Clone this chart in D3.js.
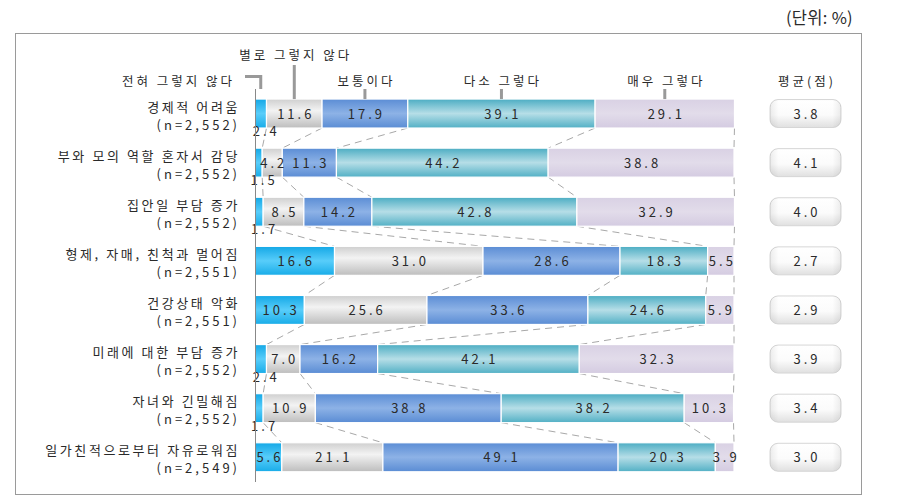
<!DOCTYPE html>
<html>
<head>
<meta charset="utf-8">
<script src="https://cdn.jsdelivr.net/npm/d3@7"></script>
<style>
  html, body { margin: 0; padding: 0; background: #fff; }
  svg text { font-family: "Noto Sans CJK KR", "Noto Sans", sans-serif; fill: #2a2a2a; }
</style>
</head>
<body>
<svg id="chart" width="898" height="503"></svg>
<script>
const categories = [
  "경제적 어려움",
  "부와 모의 역할 혼자서 감당",
  "집안일 부담 증가",
  "형제, 자매, 친척과 멀어짐",
  "건강상태 악화",
  "미래에 대한 부담 증가",
  "자녀와 긴밀해짐",
  "일가친적으로부터 자유로워짐"
];
const sampleSizes = ["(n=2,552)", "(n=2,552)", "(n=2,552)", "(n=2,551)", "(n=2,551)", "(n=2,552)", "(n=2,552)", "(n=2,549)"];
const seriesNames = ["전혀 그렇지 않다", "별로 그렇지 않다", "보통이다", "다소 그렇다", "매우 그렇다"];
const notAtAll   = [2.4, 1.5, 1.7, 16.6, 10.3, 2.4, 1.7, 5.6];
const notReally  = [11.6, 4.2, 8.5, 31.0, 25.6, 7.0, 10.9, 21.1];
const neutral    = [17.9, 11.3, 14.2, 28.6, 33.6, 16.2, 38.8, 49.1];
const somewhat   = [39.1, 44.2, 42.8, 18.3, 24.6, 42.1, 38.2, 20.3];
const very       = [29.1, 38.8, 32.9, 5.5, 5.9, 32.3, 10.3, 3.9];
const averages   = ["3.8", "4.1", "4.0", "2.7", "2.9", "3.9", "3.4", "3.0"];
const unitLabel = "(단위: %)";
const avgHeader = "평균(점)";

const series = [notAtAll, notReally, neutral, somewhat, very];

const svg = d3.select("#chart");
const defs = svg.append("defs");

const gradStops = [
  [["0%", "#14a8e6"], ["50%", "#58cdfa"], ["100%", "#18ace8"]],
  [["0%", "#cfcfcf"], ["40%", "#f3f3f3"], ["100%", "#bdbdbd"]],
  [["0%", "#5b8dd5"], ["50%", "#8db2e6"], ["100%", "#5a8cd4"]],
  [["0%", "#4cadc3"], ["50%", "#b6dee7"], ["100%", "#52b0c5"]],
  [["0%", "#d9d1e4"], ["50%", "#e2dcea"], ["100%", "#d4cbe1"]]
];
gradStops.forEach((stops, i) => {
  const g = defs.append("linearGradient").attr("id", "g" + i)
    .attr("x1", 0).attr("y1", 0).attr("x2", 0).attr("y2", 1);
  stops.forEach(s => g.append("stop").attr("offset", s[0]).attr("stop-color", s[1]));
});
const bg = defs.append("linearGradient").attr("id", "boxg")
  .attr("x1", 0).attr("y1", 0).attr("x2", 0).attr("y2", 1);
bg.append("stop").attr("offset", "0%").attr("stop-color", "#ffffff");
bg.append("stop").attr("offset", "55%").attr("stop-color", "#fbfbfb");
bg.append("stop").attr("offset", "100%").attr("stop-color", "#e0e0e0");
const bgh = defs.append("linearGradient").attr("id", "boxh")
  .attr("x1", 0).attr("y1", 0).attr("x2", 1).attr("y2", 0);
bgh.append("stop").attr("offset", "0%").attr("stop-color", "#000").attr("stop-opacity", 0.07);
bgh.append("stop").attr("offset", "12%").attr("stop-color", "#000").attr("stop-opacity", 0);
bgh.append("stop").attr("offset", "88%").attr("stop-color", "#000").attr("stop-opacity", 0);
bgh.append("stop").attr("offset", "100%").attr("stop-color", "#000").attr("stop-opacity", 0.07);

// frame
svg.append("rect").attr("x", 15.5).attr("y", 33.5).attr("width", 846).attr("height", 461)
  .attr("fill", "none").attr("stroke", "#9a9a9a").attr("stroke-width", 1);
svg.append("text").attr("x", 853).attr("y", 24).attr("text-anchor", "end")
  .style("font-size", "16.5px").style("letter-spacing", "0.3px").text(unitLabel);

const x = d3.scaleLinear().domain([0, 100]).range([255, 734]);
const y = d3.scaleBand().domain(d3.range(categories.length)).range([89, 481.8])
  .paddingInner(0.41).paddingOuter(0.2047);
const bh = y.bandwidth();

// stacked data
const rows = categories.map((c, i) => {
  let acc = 0;
  const segs = series.map((s, k) => {
    const s0 = acc; acc += s[i];
    return { k, v: s[i], x0: s0, x1: acc };
  });
  return { i, segs, cum: [0].concat(segs.map(d => d.x1)) };
});

// dashed connectors
const conn = svg.append("g");
for (let i = 0; i < rows.length - 1; i++) {
  for (let k = 1; k <= 5; k++) {
    conn.append("line")
      .attr("x1", x(rows[i].cum[k])).attr("y1", y(i) + bh)
      .attr("x2", x(rows[i + 1].cum[k])).attr("y2", y(i + 1))
      .attr("stroke", "#a8a8a8").attr("stroke-width", 1)
      .attr("stroke-dasharray", "7,5");
  }
}

// bars
const rowG = svg.append("g").selectAll("g").data(rows).join("g");
rowG.selectAll("rect").data(d => d.segs.map(s => ({ ...s, i: d.i }))).join("rect")
  .attr("x", d => x(d.x0))
  .attr("y", d => y(d.i))
  .attr("width", d => Math.max(0, x(d.x1) - x(d.x0)))
  .attr("height", bh)
  .attr("fill", d => `url(#g${d.k})`)
  .attr("stroke", "#fff").attr("stroke-width", 1.2);

// value labels
rowG.selectAll("text.v").data(d => d.segs.map(s => ({ ...s, i: d.i }))).join("text")
  .attr("class", "v")
  .attr("x", d => d.v < 3 ? (x(d.x0) + x(d.x1)) / 2 + 4 + 1.5 : (x(d.x0) + x(d.x1)) / 2 + 1.5)
  .attr("y", d => d.v < 3 ? y(d.i) + bh + 8 : y(d.i) + bh / 2 + 5)
  .attr("text-anchor", "middle")
  .style("font-size", "13px").style("letter-spacing", "3px")
  .text(d => d.v.toFixed(1));

// axis line
svg.append("line").attr("x1", 255.5).attr("x2", 255.5).attr("y1", 89).attr("y2", 482)
  .attr("stroke", "#888").attr("stroke-width", 1);

// category labels
categories.forEach((c, i) => {
  const cy = y(i) + bh / 2;
  svg.append("text").attr("x", 240).attr("y", cy - 2).attr("text-anchor", "end")
    .style("font-size", "13px").style("letter-spacing", "2.6px").text(c);
  svg.append("text").attr("x", 240).attr("y", cy + 16).attr("text-anchor", "end")
    .style("font-size", "13px").style("letter-spacing", "3px").text(sampleSizes[i]);
});

// legend
const r0 = rows[0];
const mid = k => x((r0.segs[k].x0 + r0.segs[k].x1) / 2);
const leg = svg.append("g");
leg.append("path")
  .attr("d", `M245,76.5H${mid(0)}V89`)
  .attr("fill", "none").attr("stroke", "#999").attr("stroke-width", 3);
leg.append("text").attr("x", 235).attr("y", 86).attr("text-anchor", "end")
  .style("font-size", "12.5px").style("letter-spacing", "3px").text(seriesNames[0]);
leg.append("line").attr("x1", mid(1)).attr("x2", mid(1)).attr("y1", 65).attr("y2", y(0))
  .attr("stroke", "#999").attr("stroke-width", 3);
leg.append("text").attr("x", mid(1) + 1.5).attr("y", 60).attr("text-anchor", "middle")
  .style("font-size", "12.5px").style("letter-spacing", "3px").text(seriesNames[1]);
[2, 3, 4].forEach(k => {
  leg.append("line").attr("x1", mid(k)).attr("x2", mid(k)).attr("y1", 89).attr("y2", y(0))
    .attr("stroke", "#999").attr("stroke-width", 3);
  leg.append("text").attr("x", mid(k) + 1.5).attr("y", 86).attr("text-anchor", "middle")
    .style("font-size", "12.5px").style("letter-spacing", "3px").text(seriesNames[k]);
});

// averages
const bx0 = 770, bw = 71;
svg.append("text").attr("x", bx0 + bw / 2 + 1.5).attr("y", 86).attr("text-anchor", "middle")
  .style("font-size", "12.5px").style("letter-spacing", "3px").text(avgHeader);
averages.forEach((a, i) => {
  svg.append("rect").attr("x", bx0).attr("y", y(i) + 0.5).attr("width", bw).attr("height", bh - 1)
    .attr("rx", 8).attr("fill", "url(#boxg)").attr("stroke", "#d6d6d6");
  svg.append("rect").attr("x", bx0).attr("y", y(i) + 0.5).attr("width", bw).attr("height", bh - 1)
    .attr("rx", 8).attr("fill", "url(#boxh)");
  svg.append("text").attr("x", bx0 + bw / 2 + 1.5).attr("y", y(i) + bh / 2 + 5)
    .attr("text-anchor", "middle").style("font-size", "13px").style("letter-spacing", "3px").text(a);
});
</script>
</body>
</html>
